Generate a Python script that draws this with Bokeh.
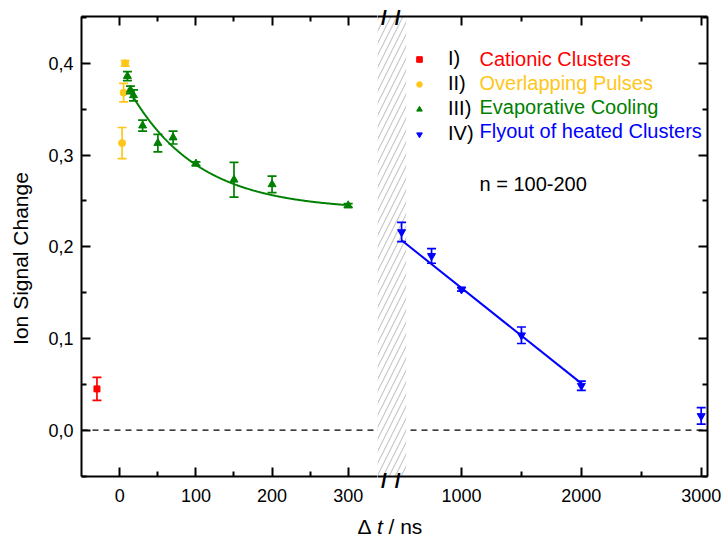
import numpy as np
from bokeh.plotting import figure
from bokeh.models import (Range1d, FixedTicker, CustomJSTickFormatter, Whisker, TeeHead,
                          ColumnDataSource, BoxAnnotation, Span, Legend, LegendItem, Label,
                          LinearAxis)
from bokeh.layouts import row, column
from bokeh.embed import file_html
from bokeh.resources import INLINE

# ---------------- data ----------------
cat_x = [-30]
cat_y = [0.045]
cat_err = [0.0125]

ovl_x = [3, 5, 7]
ovl_y = [0.313, 0.368, 0.400]
ovl_err = [0.017, 0.010, 0.003]

evap_x = [10, 14, 18, 30, 50, 70, 100, 150, 200, 300]
evap_y = [0.386, 0.371, 0.365, 0.332, 0.313, 0.319, 0.2905, 0.273, 0.268, 0.245]
evap_err = [0.005, 0.004, 0.006, 0.006, 0.0095, 0.007, 0.002, 0.019, 0.009, 0.002]

fly_x = [500, 750, 1000, 1500, 2000, 3000]
fly_y = [0.216, 0.190, 0.1535, 0.1035, 0.0485, 0.0155]
fly_err = [0.0105, 0.008, 0.002, 0.009, 0.005, 0.009]

# fit parameters
evap_fit_y0, evap_fit_A, evap_fit_tau = 0.240, 0.150, 90.0
evap_fit_range = [11, 300]
fly_fit_intercept, fly_fit_slope = 0.259, -1.04e-4
fly_fit_range = [500, 2000]

left_ticks = [0, 100, 200, 300]
left_minor = [50, 150, 250]
right_ticks = [1000, 2000, 3000]
right_minor = [1500, 2500]
y_ticks = [0.0, 0.1, 0.2, 0.3, 0.4]
y_minor = [-0.05, 0.05, 0.15, 0.25, 0.35, 0.45]

names = ["Cationic Clusters", "Overlapping Pulses", "Evaporative Cooling", "Flyout of heated Clusters"]
numerals = ["I)", "II)", "III)", "IV)"]
colors = ["#FF0000", "#FFC61A", "#008000", "#0000FF"]
markers = ["square", "circle", "triangle", "inverted_triangle"]
marker_sizes = [6, 7, 8, 8]

break_start, break_end = 299.0, 538.6
break_marks = [352, 468]   # where the two "/" of the axis-break symbol sit

FONT = "Liberation Sans"

# ---------------- ranges ----------------
yr = Range1d(-0.0505, 0.451)
xr_left = Range1d(-50.3, 338.5)
xr_right = Range1d(break_start, 3052.6)

def style_axis(ax, ticks, minor, labels=True, standoff=8):
    ax.ticker = FixedTicker(ticks=ticks, minor_ticks=minor)
    ax.axis_line_width = 2
    ax.axis_line_color = "black"
    ax.major_tick_line_width = 2
    ax.minor_tick_line_width = 2
    ax.major_tick_in = 9
    ax.major_tick_out = 0
    ax.minor_tick_in = 5
    ax.minor_tick_out = 0
    ax.major_label_text_font = FONT
    ax.major_label_text_color = "black"
    if labels:
        ax.major_label_text_font_size = "18px"
        ax.major_label_standoff = standoff
    else:
        ax.formatter = CustomJSTickFormatter(code="return ''")
        ax.major_label_text_font_size = "10px"
        ax.major_label_standoff = 0

def break_axis(standoff):
    ax = LinearAxis(ticker=FixedTicker(ticks=break_marks, minor_ticks=[]),
                    formatter=CustomJSTickFormatter(code="return '/'"))
    ax.axis_line_color = None
    ax.major_tick_line_color = None
    ax.minor_tick_line_color = None
    ax.major_tick_out = 0
    ax.major_tick_in = 0
    ax.major_label_standoff = standoff
    ax.major_label_text_font = FONT
    ax.major_label_text_font_size = "21px"
    ax.major_label_text_font_style = "bold"
    ax.major_label_text_color = "black"
    return ax

def make_fig(xr, frame_w, mb_left, mb_right, yloc):
    p = figure(x_range=xr, y_range=yr, frame_width=frame_w, frame_height=460,
               min_border_left=mb_left, min_border_right=mb_right,
               min_border_top=16, min_border_bottom=30,
               output_backend="svg", toolbar_location=None,
               x_axis_location="below", y_axis_location=yloc)
    p.outline_line_color = None
    p.grid.visible = False
    p.background_fill_color = "white"
    p.border_fill_color = "white"
    return p

def add_errorbars(p, xs, ys, errs, color):
    src = ColumnDataSource(dict(x=xs, upper=[y + e for y, e in zip(ys, errs)],
                                lower=[y - e for y, e in zip(ys, errs)]))
    w = Whisker(base="x", upper="upper", lower="lower", source=src, dimension="height",
                line_color=color, line_width=1.7, level="annotation",
                upper_head=TeeHead(size=9, line_color=color, line_width=1.7),
                lower_head=TeeHead(size=9, line_color=color, line_width=1.7))
    p.add_layout(w)

# ---------------- y-axis title strip ----------------
p0 = figure(width=40, height=506, x_range=(0, 1), y_range=(0, 1), output_backend="svg",
            toolbar_location=None, x_axis_location=None, y_axis_location=None, min_border=0)
p0.outline_line_color = None
p0.grid.visible = False
p0.add_layout(Label(x=20, y=218, x_units="screen", y_units="screen", text="Ion Signal Change",
                    angle=90, angle_units="deg", text_align="center", text_baseline="middle",
                    text_font=FONT, text_font_size="21px", text_color="black"))

# ---------------- left figure ----------------
p1 = make_fig(xr_left, 296, 41, 0, "left")
style_axis(p1.xaxis[0], left_ticks, left_minor, standoff=12)
style_axis(p1.yaxis[0], y_ticks, y_minor)
p1.yaxis[0].formatter = CustomJSTickFormatter(code="return tick.toFixed(1).replace('.', ',')")
top1 = LinearAxis()
style_axis(top1, left_ticks, left_minor, labels=False)
p1.add_layout(top1, "above")

p1.add_layout(Span(location=0, dimension="width", line_color="black", line_width=1.3,
                   line_dash="6 5", level="underlay"))

fx = np.linspace(evap_fit_range[0], evap_fit_range[1], 300)
p1.line(fx, evap_fit_y0 + evap_fit_A * np.exp(-fx / evap_fit_tau), line_color=colors[2], line_width=2)

add_errorbars(p1, cat_x, cat_y, cat_err, colors[0])
add_errorbars(p1, ovl_x, ovl_y, ovl_err, colors[1])
add_errorbars(p1, evap_x, evap_y, evap_err, colors[2])
p1.scatter(cat_x, cat_y, marker=markers[0], size=marker_sizes[0], color=colors[0])
p1.scatter(ovl_x, ovl_y, marker=markers[1], size=marker_sizes[1], color=colors[1])
p1.scatter(evap_x, evap_y, marker=markers[2], size=marker_sizes[2], color=colors[2])

# ---------------- right figure ----------------
p2 = make_fig(xr_right, 330, 0, 15, "right")
style_axis(p2.xaxis[0], right_ticks, right_minor, standoff=12)
style_axis(p2.yaxis[0], y_ticks, y_minor, labels=False)
top2 = LinearAxis()
style_axis(top2, right_ticks, right_minor, labels=False)
p2.add_layout(top2, "above")
# axis-break symbols drawn as tick labels of two line-less axes
p2.add_layout(break_axis(-12), "above")
p2.add_layout(break_axis(-36), "below")

p2.add_layout(Span(location=0, dimension="width", line_color="black", line_width=1.3,
                   line_dash="6 5", level="underlay"))
p2.add_layout(BoxAnnotation(right=break_end, fill_color="white", fill_alpha=1.0,
                            line_color=None, hatch_pattern="/", hatch_color="#c8c8c8",
                            hatch_scale=12, hatch_weight=1.2, level="underlay"))

p2.line(fly_fit_range, [fly_fit_intercept + fly_fit_slope * v for v in fly_fit_range],
        line_color=colors[3], line_width=2)
add_errorbars(p2, fly_x, fly_y, fly_err, colors[3])
r_fly = p2.scatter(fly_x, fly_y, marker=markers[3], size=marker_sizes[3], color=colors[3])

# legend (proxy renderers for the series of the left panel; their points fall outside this panel)
proxies = [p2.scatter(xs[:1], ys[:1], marker=markers[i], size=marker_sizes[i], color=colors[i])
           for i, (xs, ys) in enumerate([(cat_x, cat_y), (ovl_x, ovl_y), (evap_x, evap_y)])] + [r_fly]
legend = Legend(items=[LegendItem(label=n, renderers=[r]) for n, r in zip(numerals, proxies)],
                location=(35, 331), border_line_color=None, background_fill_alpha=0,
                padding=0, margin=0, spacing=2, glyph_width=14, glyph_height=20,
                label_height=20, label_standoff=22, label_text_font=FONT,
                label_text_font_size="20px", label_text_color="black")
p2.add_layout(legend)
for i, (n, c) in enumerate(zip(names, colors)):
    p2.add_layout(Label(x=102, y=418 - 24.3 * i, x_units="screen", y_units="screen", text=n,
                        text_color=c, text_font=FONT, text_font_size="20px",
                        text_baseline="middle"))
p2.add_layout(Label(x=102, y=293, x_units="screen", y_units="screen", text="n = 100-200",
                    text_color="black", text_font=FONT, text_font_size="20px",
                    text_baseline="middle"))

# ---------------- x-axis title strip ----------------
p3 = figure(width=722, height=33, x_range=(0, 1), y_range=(0, 1), output_backend="svg",
            toolbar_location=None, x_axis_location=None, y_axis_location=None, min_border=0)
p3.outline_line_color = None
p3.grid.visible = False
for txt, xx, style in [("\u0394", 357, "normal"), ("t", 376.5, "italic"), ("/ ns", 388, "normal")]:
    p3.add_layout(Label(x=xx, y=13, x_units="screen", y_units="screen", text=txt,
                        text_font=FONT, text_font_size="21px", text_font_style=style,
                        text_color="black", text_baseline="alphabetic"))

layout = column(row(p0, p1, p2), p3)
open("out.html", "w").write(file_html(layout, INLINE))
